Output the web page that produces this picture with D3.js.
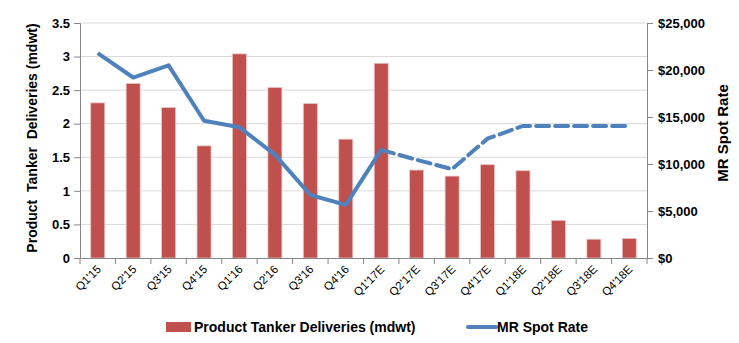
<!DOCTYPE html>
<html><head><meta charset="utf-8">
<script src="https://cdn.jsdelivr.net/npm/d3@7"></script>
<style>body{margin:0;background:#fff;font-family:Arial,"Liberation Sans",sans-serif;}</style>
</head><body><svg id="c" width="739" height="343"></svg>
<script>
const categories = ["Q1'15","Q2'15","Q3'15","Q4'15","Q1'16","Q2'16","Q3'16","Q4'16","Q1'17E","Q2'17E","Q3'17E","Q4'17E","Q1'18E","Q2'18E","Q3'18E","Q4'18E"];
const deliveries = [2.31,2.60,2.24,1.67,3.04,2.54,2.30,1.77,2.90,1.31,1.22,1.39,1.30,0.56,0.28,0.29];
const spotRate = [21800,19200,20500,14600,13900,11000,6700,5650,11500,10450,9450,12700,14050,14050,14050,14050];
const actualCount = 9; // Q1'15 .. Q1'17E solid, rest dashed
const leftTicks = [0,0.5,1,1.5,2,2.5,3,3.5];
const rightTicks = [0,5000,10000,15000,20000,25000];

const svg = d3.select("#c");
const L = 80, R = 647, T = 23, B = 258;
const x = d3.scaleBand().domain(categories).range([L, R]).paddingInner(0.6).paddingOuter(0.3);
const xb = d3.scaleBand().domain(categories).range([L, R]);
const y = d3.scaleLinear().domain([0, 3.5]).range([B, T]);
const y2 = d3.scaleLinear().domain([0, 25000]).range([B, T]);

// gridlines
svg.append("g").selectAll("line").data(leftTicks.slice(1)).join("line")
  .attr("x1", L).attr("x2", R).attr("y1", d => y(d)).attr("y2", d => y(d))
  .attr("stroke", "#d9d9d9").attr("stroke-width", 1);

// bars
svg.append("g").selectAll("rect").data(deliveries).join("rect")
  .attr("x", (d, i) => xb(categories[i]) + xb.bandwidth()/2 - 7)
  .attr("width", 14)
  .attr("y", d => y(d)).attr("height", d => B - y(d))
  .attr("fill", "#C0504D").attr("stroke", "#e8c4c3").attr("stroke-width", 0.8);

// axes
const axL = svg.append("g").attr("transform", `translate(${L},0)`)
  .call(d3.axisLeft(y).tickValues(leftTicks).tickFormat(d3.format("")).tickSize(6).tickPadding(4));
const axR = svg.append("g").attr("transform", `translate(${R},0)`)
  .call(d3.axisRight(y2).tickValues(rightTicks).tickFormat(d => "$" + d3.format(",")(d)).tickSize(6).tickPadding(5));
const axB = svg.append("g").attr("transform", `translate(0,${B})`)
  .call(d3.axisBottom(xb).tickSize(0).tickFormat(""));
// band-boundary ticks
svg.append("g").selectAll("line").data(d3.range(categories.length + 1)).join("line")
  .attr("x1", i => L + i * xb.step()).attr("x2", i => L + i * xb.step())
  .attr("y1", B).attr("y2", B + 6).attr("stroke", "#868686");

[axL, axR, axB].forEach(a => {
  a.select(".domain").attr("stroke", "#868686");
  a.selectAll(".tick line").attr("stroke", "#868686");
});
axL.selectAll("text").attr("font-size", 13).attr("font-weight", "bold").attr("fill", "#000").attr("font-family", "Arial");
axR.selectAll("text").attr("font-size", 13).attr("font-weight", "bold").attr("fill", "#000").attr("font-family", "Arial");

// x labels
svg.append("g").selectAll("text").data(categories).join("text")
  .attr("transform", d => `translate(${xb(d) + xb.bandwidth()/2 + 4},${B + 12}) rotate(-45)`)
  .attr("text-anchor", "end").attr("font-size", 11.5).attr("font-family", "Arial")
  .attr("fill", "#000").text(d => d);

// line
const pts = spotRate.map((v, i) => [xb(categories[i]) + xb.bandwidth()/2, y2(v)]);
const lineGen = d3.line();
svg.append("path").attr("d", lineGen(pts.slice(0, actualCount)))
  .attr("fill", "none").attr("stroke", "#4F81BD").attr("stroke-width", 4).attr("stroke-linejoin", "round");
svg.append("path").attr("d", lineGen(pts.slice(actualCount - 1)))
  .attr("fill", "none").attr("stroke", "#4F81BD").attr("stroke-width", 4)
  .attr("stroke-dasharray", "13,6").attr("stroke-linecap", "round");

// titles
svg.append("text").attr("transform", `translate(37,138) rotate(-90)`)
  .attr("text-anchor", "middle").attr("font-size", 14).attr("font-weight", "bold").attr("font-family", "Arial")
  .attr("xml:space", "preserve").style("white-space", "pre").text("Product  Tanker  Deliveries (mdwt)");
svg.append("text").attr("transform", `translate(728,133) rotate(-90)`)
  .attr("text-anchor", "middle").attr("font-size", 15).attr("font-weight", "bold").attr("font-family", "Arial")
  .text("MR Spot Rate");

// legend
const lg = svg.append("g");
lg.append("rect").attr("x", 166).attr("y", 322).attr("width", 25).attr("height", 10).attr("fill", "#C0504D");
lg.append("text").attr("x", 194).attr("y", 332).attr("font-size", 14).attr("font-weight", "bold").attr("font-family", "Arial").text("Product Tanker Deliveries (mdwt)");
lg.append("line").attr("x1", 468).attr("x2", 496).attr("y1", 327).attr("y2", 327).attr("stroke", "#4F81BD").attr("stroke-width", 4).attr("stroke-linecap", "round");
lg.append("text").attr("x", 497).attr("y", 332).attr("font-size", 14).attr("font-weight", "bold").attr("font-family", "Arial").text("MR Spot Rate");
</script></body></html>
